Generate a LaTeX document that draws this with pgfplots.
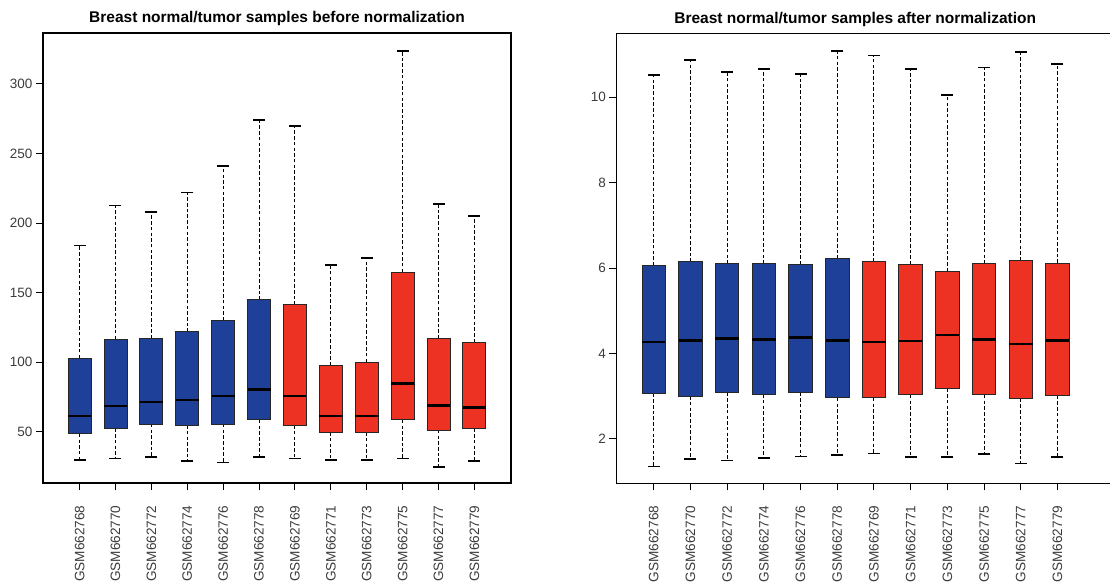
\documentclass[border=0pt]{standalone}
\usepackage{fontspec}
\setmainfont{Liberation Sans}
\usepackage{pgfplots}
\pgfplotsset{compat=1.18}
\usepgfplotslibrary{statistics}
\definecolor{nblue}{RGB}{31,64,153}
\definecolor{tred}{RGB}{237,50,36}
\definecolor{labgray}{RGB}{60,60,60}
\pgfplotsset{
  Rbox/.style={
    scale only axis,
    height=450pt,
    xmin=-0.02,
    xtick={1,...,12},
    xticklabels={GSM662768,GSM662770,GSM662772,GSM662774,GSM662776,GSM662778,GSM662769,GSM662771,GSM662773,GSM662775,GSM662777,GSM662779},
    tick align=outside,
    major tick length=7pt,
    every tick/.style={black, line width=1pt},
    xtick pos=bottom, ytick pos=left,
    x tick label style={rotate=90, anchor=east, font=\fontsize{13.6}{15}\selectfont, text=labgray},
    xticklabel shift=12pt,
    y tick label style={font=\fontsize{13.5}{14}\selectfont, text=labgray},
    /pgf/number format/assume math mode=true,
    axis line style={line width=1.5pt, black},
    title style={font=\bfseries\fontsize{15.5}{17}\selectfont, anchor=base, yshift=4pt},
    unbounded coords=jump,
    boxplot/draw direction=y,
    boxplot/box extend=0.64,
    boxplot/every median/.style={line width=2.6pt, black},
    boxplot/every box/.style={draw=black!85, line width=0.9pt},
    boxplot/every whisker/.style={draw=none, fill=none},
    boxplot/draw/lower whisker/.style={},
    boxplot/draw/upper whisker/.style={},
  },
  N/.style={fill=nblue, draw=black!85},
  T/.style={fill=tred, draw=black!85},
  wh/.style={black, line width=1pt, dash pattern=on 3.5pt off 2.2pt, mark=none},
  cap/.style={only marks, mark=-, mark size=6pt, mark options={solid, black, line width=1.6pt}},
}
\newcommand{\bx}[7]{\addplot[#1, boxplot prepared={draw position=#2, lower whisker=#3, lower quartile=#4, median=#5, upper quartile=#6, upper whisker=#7}] coordinates {};}
\begin{document}
\begin{tikzpicture}
\useasboundingbox (0,0) rectangle (1110pt,583pt);
\begin{axis}[Rbox, at={(43pt,100pt)}, anchor=south west, width=468pt,
  xmax=13.02, ymin=13.3, ymax=336.5, ytick={50,100,...,300},
  title={Breast normal/tumor samples before normalization}]
\addplot[wh] coordinates {
(1,103)(1,184)(1,nan)(1,48.6)(1,30)(1,nan)
(2,116.6)(2,212.6)(2,nan)(2,52.4)(2,30.8)(2,nan)
(3,117)(3,207.8)(3,nan)(3,55.7)(3,32)(3,nan)
(4,121.8)(4,221.9)(4,nan)(4,54.8)(4,29)(4,nan)
(5,130)(5,241.1)(5,nan)(5,55.7)(5,28)(5,nan)
(6,144.8)(6,273.9)(6,nan)(6,58.6)(6,32)(6,nan)
(7,141.2)(7,269.8)(7,nan)(7,54.8)(7,30.8)(7,nan)
(8,97.6)(8,169.7)(8,nan)(8,49.8)(8,29.9)(8,nan)
(9,100.2)(9,174.7)(9,nan)(9,49.8)(9,29.9)(9,nan)
(10,164.7)(10,323.5)(10,nan)(10,58.6)(10,30.8)(10,nan)
(11,117)(11,213.8)(11,nan)(11,51.4)(11,24.8)(11,nan)
(12,114.4)(12,205)(12,nan)(12,52.4)(12,29)};
\addplot[cap] coordinates {
(1,184)(1,30)(2,212.6)(2,30.8)(3,207.8)(3,32)(4,221.9)(4,29)
(5,241.1)(5,28)(6,273.9)(6,32)(7,269.8)(7,30.8)(8,169.7)(8,29.9)
(9,174.7)(9,29.9)(10,323.5)(10,30.8)(11,213.8)(11,24.8)(12,205)(12,29)};
\bx{N}{1}{30}{48.6}{61.5}{103}{184}
\bx{N}{2}{30.8}{52.4}{68.7}{116.6}{212.6}
\bx{N}{3}{32}{55.7}{71.6}{117}{207.8}
\bx{N}{4}{29}{54.8}{72.8}{121.8}{221.9}
\bx{N}{5}{28}{55.7}{75.9}{130}{241.1}
\bx{N}{6}{32}{58.6}{80.6}{144.8}{273.9}
\bx{T}{7}{30.8}{54.8}{75.9}{141.2}{269.8}
\bx{T}{8}{29.9}{49.8}{61.5}{97.6}{169.7}
\bx{T}{9}{29.9}{49.8}{61.5}{100.2}{174.7}
\bx{T}{10}{30.8}{58.6}{84.7}{164.7}{323.5}
\bx{T}{11}{24.8}{51.4}{69}{117}{213.8}
\bx{T}{12}{29}{52.4}{67.7}{114.4}{205}
\end{axis}
\begin{axis}[Rbox, at={(616.3pt,99.7pt)}, anchor=south west, width=499.9pt,
  xmax=13.6, ymin=0.96, ymax=11.5, ytick={2,4,...,10},
  title style={at={(0.478,1)}},
  title={Breast normal/tumor samples after normalization}]
\addplot[wh] coordinates {
(1,6.06)(1,10.53)(1,nan)(1,3.06)(1,1.35)(1,nan)
(2,6.145)(2,10.87)(2,nan)(2,3.00)(2,1.53)(2,nan)
(3,6.10)(3,10.59)(3,nan)(3,3.08)(3,1.49)(3,nan)
(4,6.10)(4,10.66)(4,nan)(4,3.045)(4,1.55)(4,nan)
(5,6.08)(5,10.54)(5,nan)(5,3.085)(5,1.59)(5,nan)
(6,6.215)(6,11.09)(6,nan)(6,2.96)(6,1.625)(6,nan)
(7,6.145)(7,10.98)(7,nan)(7,2.96)(7,1.66)(7,nan)
(8,6.08)(8,10.66)(8,nan)(8,3.03)(8,1.58)(8,nan)
(9,5.925)(9,10.06)(9,nan)(9,3.18)(9,1.58)(9,nan)
(10,6.10)(10,10.70)(10,nan)(10,3.03)(10,1.65)(10,nan)
(11,6.18)(11,11.06)(11,nan)(11,2.94)(11,1.42)(11,nan)
(12,6.12)(12,10.78)(12,nan)(12,3.01)(12,1.57)};
\addplot[cap] coordinates {
(1,10.53)(1,1.35)(2,10.87)(2,1.53)(3,10.59)(3,1.49)(4,10.66)(4,1.55)
(5,10.54)(5,1.59)(6,11.09)(6,1.625)(7,10.98)(7,1.66)(8,10.66)(8,1.58)
(9,10.06)(9,1.58)(10,10.70)(10,1.65)(11,11.06)(11,1.42)(12,10.78)(12,1.57)};
\bx{N}{1}{1.35}{3.06}{4.27}{6.06}{10.53}
\bx{N}{2}{1.53}{3.00}{4.31}{6.145}{10.87}
\bx{N}{3}{1.49}{3.08}{4.35}{6.10}{10.59}
\bx{N}{4}{1.55}{3.045}{4.33}{6.10}{10.66}
\bx{N}{5}{1.59}{3.085}{4.37}{6.08}{10.54}
\bx{N}{6}{1.625}{2.96}{4.31}{6.215}{11.09}
\bx{T}{7}{1.66}{2.96}{4.27}{6.145}{10.98}
\bx{T}{8}{1.58}{3.03}{4.29}{6.08}{10.66}
\bx{T}{9}{1.58}{3.18}{4.435}{5.925}{10.06}
\bx{T}{10}{1.65}{3.03}{4.33}{6.10}{10.70}
\bx{T}{11}{1.42}{2.94}{4.225}{6.18}{11.06}
\bx{T}{12}{1.57}{3.01}{4.30}{6.12}{10.78}
\end{axis}
\end{tikzpicture}
\end{document}
